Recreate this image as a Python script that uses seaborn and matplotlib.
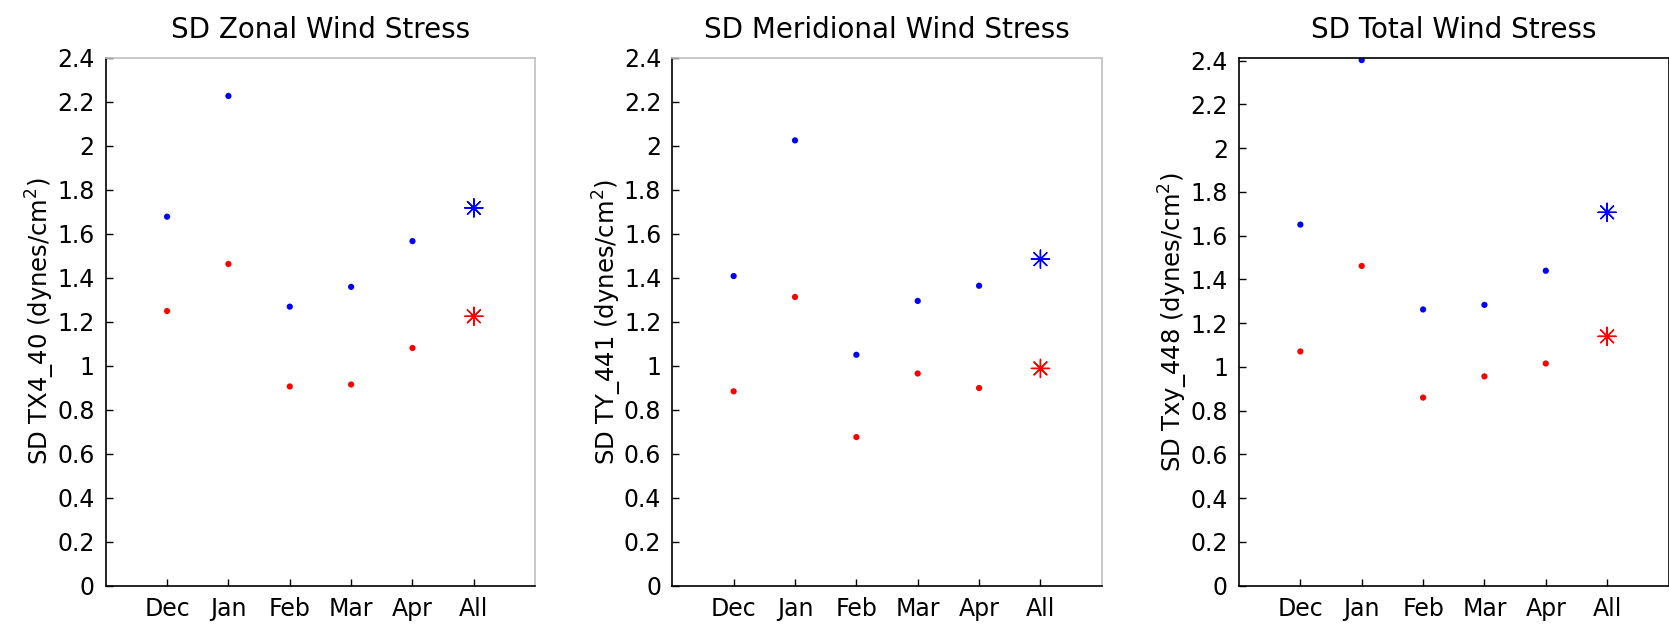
import numpy as np
import pandas as pd
import matplotlib
matplotlib.use('Agg')
import matplotlib.pyplot as plt
import seaborn as sns
from matplotlib.ticker import FuncFormatter, MultipleLocator

sns.set_style('white')
plt.rcParams['font.family'] = ['DejaVu Sans']
plt.rcParams['text.color'] = 'black'
plt.rcParams['axes.labelcolor'] = 'black'
plt.rcParams['xtick.color'] = 'black'
plt.rcParams['ytick.color'] = 'black'

# Dados
meses = ['Dec', 'Jan', 'Feb', 'Mar', 'Apr']
todos = 'All'

titulos = ['SD Zonal Wind Stress', 'SD Meridional Wind Stress', 'SD Total Wind Stress']
rotulos_y = ['SD TX4_40 (dynes/cm$^2$)', 'SD TY_441 (dynes/cm$^2$)', 'SD Txy_448 (dynes/cm$^2$)']

zonal_azul = [1.677, 2.226, 1.268, 1.358, 1.566]
zonal_verm = [1.248, 1.462, 0.905, 0.914, 1.080]
zonal_all_azul = 1.717
zonal_all_verm = 1.224

merid_azul = [1.407, 2.024, 1.049, 1.294, 1.363]
merid_verm = [0.883, 1.312, 0.675, 0.964, 0.898]
merid_all_azul = 1.484
merid_all_verm = 0.987

total_azul = [1.650, 2.402, 1.262, 1.283, 1.439]
total_verm = [1.070, 1.461, 0.859, 0.956, 1.015]
total_all_azul = 1.706
total_all_verm = 1.139

paineis = [
    (zonal_azul, zonal_verm, zonal_all_azul, zonal_all_verm),
    (merid_azul, merid_verm, merid_all_azul, merid_all_verm),
    (total_azul, total_verm, total_all_azul, total_all_verm),
]
ylims = [2.4, 2.4, 2.413]
cor_caixa = ['#c0c0c0', '#c0c0c0', 'black']
esquerdas = [105.7, 672.3, 1239.0]

W, H = 1669, 629
fig = plt.figure(figsize=(W / 100, H / 100), dpi=100)

ordem = meses + [todos]
paleta = {'azul': (0, 0, 1), 'verm': (1, 0, 0)}

for i, (azul, verm, all_azul, all_verm) in enumerate(paineis):
    ax = fig.add_axes([esquerdas[i] / W, 1 - 585.5 / H, 429.5 / W, (585.5 - 57.7) / H])

    df_mes = pd.DataFrame({
        'Mes': meses * 2,
        'Valor': azul + verm,
        'Serie': ['azul'] * len(meses) + ['verm'] * len(meses),
    })
    df_all = pd.DataFrame({
        'Mes': [todos, todos],
        'Valor': [all_azul, all_verm],
        'Serie': ['azul', 'verm'],
    })
    df_mes['Mes'] = pd.Categorical(df_mes['Mes'], categories=ordem)
    df_all['Mes'] = pd.Categorical(df_all['Mes'], categories=ordem)

    # pontos mensais
    sns.scatterplot(data=df_mes, x='Mes', y='Valor', hue='Serie', palette=paleta,
                    s=20, linewidth=0, legend=False, ax=ax)
    # asteriscos "All"
    sns.scatterplot(data=df_all, x='Mes', y='Valor', hue='Serie', palette=paleta,
                    marker=(8, 2, 0), s=170, linewidth=1.0, legend=False, ax=ax)

    ax.set_xlim(-1, 6)
    ax.set_ylim(0, ylims[i])
    ax.yaxis.set_major_locator(MultipleLocator(0.2))
    ax.yaxis.set_major_formatter(FuncFormatter(lambda v, p: '%g' % round(v, 2)))
    ax.set_xticks(range(len(ordem)))
    ax.set_xticklabels(ordem)

    ax.tick_params(direction='in', length=5, width=1, labelsize=17, color='black',
                   top=False, right=False, left=True, bottom=True, pad=8)
    for lado in ['left', 'bottom']:
        ax.spines[lado].set_color('black')
        ax.spines[lado].set_linewidth(1.2)
    for lado in ['top', 'right']:
        ax.spines[lado].set_color(cor_caixa[i])
        ax.spines[lado].set_linewidth(1.2)

    ax.set_title(titulos[i], fontsize=20, pad=14)
    ax.set_xlabel('')
    ax.set_ylabel(rotulos_y[i], fontsize=17.5, labelpad=0)

fig.savefig('out.png', dpi=100)
plt.close()
